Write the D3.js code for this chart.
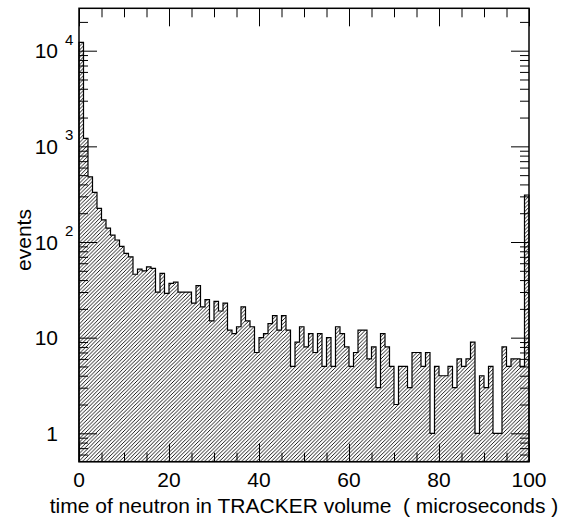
<!DOCTYPE html>
<html>
<head>
<meta charset="utf-8">
<script src="https://cdn.jsdelivr.net/npm/d3@7"></script>
<style>
body { margin: 0; background: #fff; }
text { font-family: "Liberation Sans", Arial, sans-serif; fill: #000; }
</style>
</head>
<body>
<svg id="svg1" width="567" height="520"></svg>
<script>
// events per 1 microsecond bin, 0..100 us (last bin collects the tail)
var binValues = [12200, 1210, 480, 330, 225, 170, 140, 118, 105, 90,
                 76, 70, 46, 52, 50, 55, 53, 30, 47, 29,
                 37, 38, 30, 30, 30, 23, 35, 21, 25, 15,
                 24, 19, 23, 12, 11, 13, 21, 15, 13, 7,
                 10, 11, 14, 17, 12, 17, 12, 5, 9, 13,
                 8, 11, 7, 11, 5, 10, 5, 13, 11, 8,
                 5, 7, 12, 12, 6, 8, 3, 11, 8, 5,
                 2, 5, 5, 3, 7, 7, 5, 7, 1, 5,
                 4, 4, 5, 3, 6, 5, 6, 9, 1, 4,
                 3, 5, 1, 1, 8, 5, 6, 6, 5, 310];
var binWidth = 1;

var xMajorTicks = [0, 20, 40, 60, 80, 100];
var xMinorTicks = [5, 10, 15, 25, 30, 35, 45, 50, 55, 65, 70, 75, 85, 90, 95];
var yMajorTicks = [1, 10, 100, 1000, 10000];
var yMinorTicks = [0.6, 0.7, 0.8, 0.9, 2, 3, 4, 5, 6, 7, 8, 9, 20, 30, 40, 50, 60, 70, 80, 90,
                   200, 300, 400, 500, 600, 700, 800, 900, 2000, 3000, 4000, 5000, 6000, 7000, 8000, 9000, 20000];
var yLabelBase = ['1', '10', '10', '10', '10'];
var yLabelExp = ['', '', '2', '3', '4'];

var xTitle = 'time of neutron in TRACKER volume  ( microseconds )';
var yTitle = 'events';

var plotLeft = 79, plotRight = 529, plotTop = 8.3, plotBottom = 461.7;

var svg = d3.select('svg');

var x = d3.scaleLinear().domain([0, 100]).range([plotLeft, plotRight]);
var y = d3.scaleLog().domain([0.505, 27750]).range([plotBottom, plotTop]);

// hatch pattern
var defs = svg.append('defs');
var pat = defs.append('pattern')
    .attr('id', 'hatch')
    .attr('patternUnits', 'userSpaceOnUse')
    .attr('width', 3.7)
    .attr('height', 3.7);
pat.append('path')
    .attr('d', 'M-1,1 l2,-2 M0,3.7 l3.7,-3.7 M2.7,4.7 l2,-2')
    .attr('stroke', '#000')
    .attr('stroke-width', 0.9);

// histogram outline as a step line
var pts = [[x(0), plotBottom]];
binValues.forEach(function(v, i){
    var yy = y(Math.max(v, 0.505));
    pts.push([x(i * binWidth), yy]);
    pts.push([x((i + 1) * binWidth), yy]);
});
pts.push([x(binValues.length * binWidth), plotBottom]);

var line = d3.line();

svg.append('path')
    .attr('d', line(pts) + 'Z')
    .attr('fill', 'url(#hatch)')
    .attr('stroke', '#000')
    .attr('stroke-width', 1.2);

// ticks on all four sides, pointing inward
function tickAxis(axis, vals, size, tx, ty){
    var g = svg.append('g')
        .attr('transform', 'translate(' + tx + ',' + ty + ')')
        .call(axis.tickValues(vals).tickSize(-size).tickFormat(''));
    g.select('.domain').remove();
    g.selectAll('line').attr('stroke', '#000').attr('stroke-width', 1);
}
tickAxis(d3.axisBottom(x), xMinorTicks, 9, 0, plotBottom);
tickAxis(d3.axisBottom(x), xMajorTicks, 18, 0, plotBottom);
tickAxis(d3.axisTop(x), xMinorTicks, 9, 0, plotTop);
tickAxis(d3.axisTop(x), xMajorTicks, 18, 0, plotTop);
tickAxis(d3.axisLeft(y), yMinorTicks, 9, plotLeft, 0);
tickAxis(d3.axisLeft(y), yMajorTicks, 18, plotLeft, 0);
tickAxis(d3.axisRight(y), yMinorTicks, 9, plotRight, 0);
tickAxis(d3.axisRight(y), yMajorTicks, 18, plotRight, 0);

// frame
svg.append('rect')
    .attr('x', plotLeft).attr('y', plotTop)
    .attr('width', plotRight - plotLeft).attr('height', plotBottom - plotTop)
    .attr('fill', 'none')
    .attr('stroke', '#000')
    .attr('stroke-width', 1.5);

// x labels
svg.selectAll('.xlab')
    .data(xMajorTicks)
    .enter()
    .append('text')
    .attr('class', 'xlab')
    .attr('x', function(d){ return x(d); })
    .attr('y', 487)
    .attr('text-anchor', 'middle')
    .attr('font-size', 21)
    .text(function(d){ return d; });

// y labels (10 with superscript exponent)
yMajorTicks.forEach(function(v, i){
    svg.append('text')
        .attr('x', 58)
        .attr('y', y(v) + 7.5)
        .attr('text-anchor', 'end')
        .attr('font-size', 21)
        .text(yLabelBase[i]);
    if (yLabelExp[i]) {
        svg.append('text')
            .attr('x', 65)
            .attr('y', y(v) - 6)
            .attr('font-size', 15)
            .text(yLabelExp[i]);
    }
});

// axis titles
svg.append('text')
    .attr('x', 304)
    .attr('y', 513)
    .attr('text-anchor', 'middle')
    .attr('font-size', 21)
    .style('white-space', 'pre')
    .text(xTitle);

svg.append('text')
    .attr('transform', 'translate(31,240) rotate(-90)')
    .attr('text-anchor', 'middle')
    .attr('font-size', 21)
    .text(yTitle);
</script>
</body>
</html>
